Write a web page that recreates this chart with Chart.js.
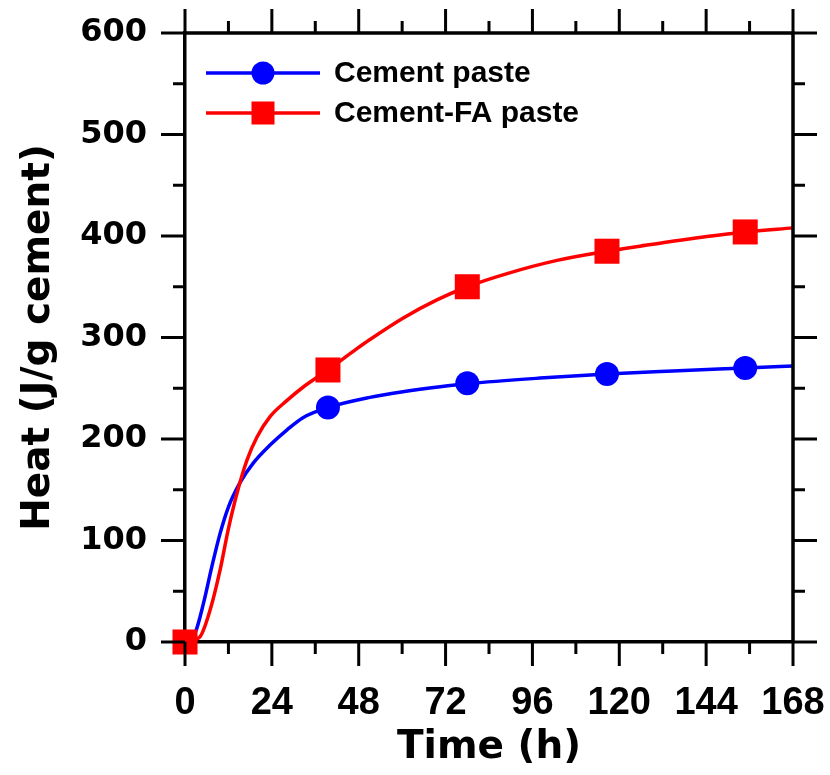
<!DOCTYPE html>
<html>
<head>
<meta charset="utf-8">
<script src="https://cdn.jsdelivr.net/npm/chart.js@4/dist/chart.umd.min.js"></script>
<style>
html,body{margin:0;padding:0;background:#fff;}
#wrap{width:830px;height:775px;}
</style>
</head>
<body>
<div id="wrap"><canvas id="c" width="830" height="775"></canvas></div>
<script>
// ---- data ----
const seriesNames = ['Cement paste', 'Cement-FA paste'];
const seriesColors = ['#0000ff', '#ff0000'];

// marker points
const markerTimes = [0, 39.5, 78, 116.6, 154.8];
const cementMarkers = [0, 231, 255, 264, 270];
const faMarkers = [0, 268, 350, 385, 404];

// continuous curves
const cementCurveT = [0, 2.8, 5.1, 7.4, 9.7, 12.0, 15.2, 18.8, 23.5, 28.2, 32.6, 39.5, 51.1, 60.2, 70.5, 78, 98.1, 116.6, 134.8, 154.8, 168];
const cementCurveQ = [0, 9, 38, 74, 107, 133, 157, 176, 194, 209, 221, 231, 241, 246.5, 251.5, 254.5, 260, 264, 267, 270, 272];
const faCurveT = [0, 4.1, 6.9, 9.7, 11.9, 14.4, 17.1, 19.9, 23.5, 28.2, 32.6, 39.5, 47.5, 51.1, 60.2, 69.6, 78, 89, 102.8, 116.6, 125.7, 144.2, 154.8, 168];
const faCurveQ = [0, 5, 31, 71, 110, 147, 179, 202, 222, 238, 251, 268, 289, 298, 319, 337, 350, 363, 376, 385, 390, 399.5, 404, 408];

// axis ticks
const xMajorTicks = [0, 24, 48, 72, 96, 120, 144, 168];
const xMinorTicks = [12, 36, 60, 84, 108, 132, 156];
const yMajorTicks = [0, 100, 200, 300, 400, 500, 600];
const yMinorTicks = [50, 150, 250, 350, 450, 550];
const xTitle = 'Time (h)';
const yTitle = 'Heat (J/g cement)';

// layout targets (plot frame)
const FRAME = {left: 185, top: 33, right: 793, bottom: 642};

const pts = (xs, ys) => xs.map((x, i) => ({x: x, y: ys[i]}));

const framePlugin = {
  id: 'frameTicksLegend',
  afterDraw(chart) {
    const ctx = chart.ctx;
    const a = chart.chartArea;
    const xs = chart.scales.x, ys = chart.scales.y;
    const MAJ = 24, MIN = 12;
    ctx.save();
    ctx.strokeStyle = '#000';
    ctx.lineWidth = 3.5;
    ctx.lineCap = 'butt';
    // top & right frame
    ctx.beginPath();
    ctx.moveTo(a.left - 1.75, a.top); ctx.lineTo(a.right + 1.75, a.top);
    ctx.moveTo(a.right, a.top); ctx.lineTo(a.right, a.bottom);
    ctx.stroke();
    ctx.lineWidth = 3;
    ctx.beginPath();
    const xt = (v, len) => {
      const p = xs.getPixelForValue(v);
      ctx.moveTo(p, a.bottom); ctx.lineTo(p, a.bottom + len);
      ctx.moveTo(p, a.top); ctx.lineTo(p, a.top - len);
    };
    const yt = (v, len) => {
      const p = ys.getPixelForValue(v);
      ctx.moveTo(a.left, p); ctx.lineTo(a.left - len, p);
      ctx.moveTo(a.right, p); ctx.lineTo(a.right + len, p);
    };
    xMajorTicks.forEach(v => xt(v, MAJ));
    xMinorTicks.forEach(v => xt(v, MIN));
    yMajorTicks.forEach(v => yt(v, MAJ));
    yMinorTicks.forEach(v => yt(v, MIN));
    ctx.stroke();

    // legend
    const lx0 = 206, lx1 = 320, mx = 263, tx = 334, ly0 = 73, dy = 40;
    ctx.font = 'bold 30px "Liberation Sans", Arial, sans-serif';
    ctx.textBaseline = 'middle';
    ctx.textAlign = 'left';
    seriesNames.forEach((name, i) => {
      const y = ly0 + i * dy;
      ctx.strokeStyle = seriesColors[i];
      ctx.lineWidth = 3.5;
      ctx.beginPath(); ctx.moveTo(lx0, y); ctx.lineTo(lx1, y); ctx.stroke();
      ctx.fillStyle = seriesColors[i];
      if (i === 0) {
        ctx.beginPath(); ctx.arc(mx, y, 11.5, 0, Math.PI * 2); ctx.fill();
      } else {
        ctx.fillRect(mx - 11.5, y - 11.5, 23, 23);
      }
      ctx.fillStyle = '#000';
      ctx.fillText(name, tx, y + 1);
    });
    ctx.restore();
  }
};

const yTickFont = {family: '"DejaVu Sans", Verdana, sans-serif', weight: 'bold', size: 32};
const xTickFont = {family: '"Liberation Sans", Arial, sans-serif', weight: 'bold', size: 38};
const titleFont = {family: '"DejaVu Sans", Verdana, sans-serif', weight: 'bold', size: 39};

const chart = new Chart(document.getElementById('c'), {
  type: 'scatter',
  data: {
    datasets: [
      {label: seriesNames[1], data: pts(markerTimes, faMarkers), showLine: false,
       pointStyle: 'rect', pointRadius: 17.7, pointBackgroundColor: seriesColors[1],
       pointBorderWidth: 0, borderColor: seriesColors[1], order: 0, clip: false},
      {label: seriesNames[0], data: pts(markerTimes, cementMarkers), showLine: false,
       pointStyle: 'circle', pointRadius: 12, pointBackgroundColor: seriesColors[0],
       pointBorderWidth: 0, borderColor: seriesColors[0], order: 1, clip: false},
      {label: seriesNames[1] + ' curve', data: pts(faCurveT, faCurveQ), showLine: true,
       pointRadius: 0, borderColor: seriesColors[1], borderWidth: 3.5,
       cubicInterpolationMode: 'monotone', order: 2, clip: false},
      {label: seriesNames[0] + ' curve', data: pts(cementCurveT, cementCurveQ), showLine: true,
       pointRadius: 0, borderColor: seriesColors[0], borderWidth: 3.5,
       cubicInterpolationMode: 'monotone', order: 3, clip: false}
    ]
  },
  options: {
    responsive: false,
    animation: false,
    events: [],
    layout: {padding: {left: 0, top: FRAME.top, right: 830 - FRAME.right, bottom: 0}},
    plugins: {legend: {display: false}, tooltip: {enabled: false}},
    scales: {
      x: {
        type: 'linear', position: 'bottom', min: 0, max: 168,
        afterBuildTicks: s => { s.ticks = xMajorTicks.map(v => ({value: v})); },
        afterFit: s => { s.height = 775 - FRAME.bottom; s.paddingLeft = 0; s.paddingRight = 0; },
        grid: {display: false, drawTicks: false},
        border: {display: true, color: '#000', width: 3.5},
        ticks: {color: '#000', font: xTickFont, padding: 39, maxRotation: 0, autoSkip: false},
        title: {display: true, text: xTitle, color: '#000', font: titleFont, padding: {top: 0, bottom: 4}}
      },
      y: {
        type: 'linear', position: 'left', min: 0, max: 600,
        afterBuildTicks: s => { s.ticks = yMajorTicks.map(v => ({value: v})); },
        afterFit: s => { s.width = FRAME.left; s.paddingTop = 0; s.paddingBottom = 0; },
        grid: {display: false, drawTicks: false},
        border: {display: true, color: '#000', width: 3.5},
        ticks: {color: '#000', font: yTickFont, padding: 38, autoSkip: false},
        title: {display: true, text: yTitle, color: '#000', font: titleFont, padding: {top: 15, bottom: 0}}
      }
    }
  },
  plugins: [framePlugin]
});

// nudge layout padding so the plot frame lands where the reference has it
for (let k = 0; k < 3; k++) {
  const a = chart.chartArea;
  const p = chart.options.layout.padding;
  p.top = Math.max(0, p.top + (FRAME.top - a.top));
  p.right = Math.max(0, p.right + (a.right - FRAME.right));
  p.left = Math.max(0, p.left + (FRAME.left - a.left));
  p.bottom = Math.max(0, p.bottom + (a.bottom - FRAME.bottom));
  chart.update();
}
</script>
</body>
</html>
